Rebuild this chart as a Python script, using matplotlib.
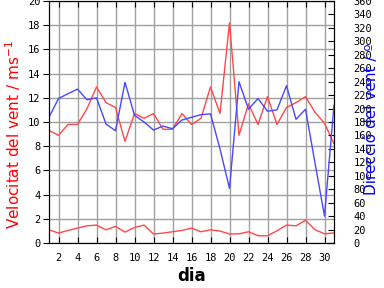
import matplotlib
matplotlib.use('Agg')
import matplotlib.pyplot as plt

dies = list(range(1, 32))
vel_max = [9.3, 8.9, 9.8, 9.8, 11.1, 12.9, 11.6, 11.2, 8.4, 10.7, 10.3, 10.7, 9.4, 9.4, 10.7,
           9.8, 10.3, 12.9, 10.7, 18.2, 8.9, 11.5, 9.8, 12.1, 9.8, 11.2, 11.6, 12.1, 10.8, 9.9, 8.2]
vel_mitja = [1.09, 0.82, 1.04, 1.23, 1.42, 1.48, 1.09, 1.37, 0.9, 1.28, 1.48, 0.74, 0.82, 0.93, 1.04,
             1.23, 0.93, 1.09, 0.99, 0.74, 0.76, 0.93, 0.6, 0.6, 1.01, 1.48, 1.42, 1.87, 1.1, 0.76, 0.83]
direccio = [187, 215, 222, 229, 213, 216, 177, 167, 239, 190, 180, 168, 174, 170, 183,
            187, 191, 192, 140, 81, 240, 199, 215, 196, 198, 234, 184, 199, 119, 40, 205]

fig = plt.figure(figsize=(3.84, 2.88), dpi=100)
ax = fig.add_axes([49/384, 45/288, 285/384, 242/288])
ax2 = ax.twinx()

ax.plot(dies, vel_max, color='#ff4848', lw=1)
ax.plot(dies, vel_mitja, color='#ff4848', lw=1)
ax2.plot(dies, direccio, color='#4848ff', lw=1)

ax.set_xlim(1, 31)
ax.set_ylim(0, 20)
ax2.set_ylim(0, 360)
ax.set_xticks(range(2, 31, 2))
ax.set_yticks(range(0, 21, 2))
ax2.set_yticks(range(0, 361, 20))
ax.grid(True, color='#a0a0a0', lw=1)
ax.set_axisbelow(True)

ax.tick_params(axis='x', direction='in', length=4, top=True, pad=7, labelsize=7.5)
ax.tick_params(axis='y', direction='out', length=4, pad=2, labelsize=7.5)
ax2.tick_params(axis='y', direction='in', length=4, pad=14, labelsize=7.5)
for lab in ax.get_xticklabels() + ax.get_yticklabels() + ax2.get_yticklabels():
    lab.set_fontfamily('DejaVu Sans Mono')

ax.set_xlabel('dia', fontsize=12, fontweight='bold')
ax.xaxis.set_label_coords(0.5, -0.1)
ax.set_ylabel('Velocitat del vent / ms$^{-1}$', color='red', fontsize=11)
ax.yaxis.set_label_coords(-0.092, 0.45)
ax2.set_ylabel('Direcció del vent / º', color='blue', fontsize=11, rotation=90)
ax2.yaxis.set_label_coords(1.105, 0.51)

fig.savefig('out.png', dpi=100)
